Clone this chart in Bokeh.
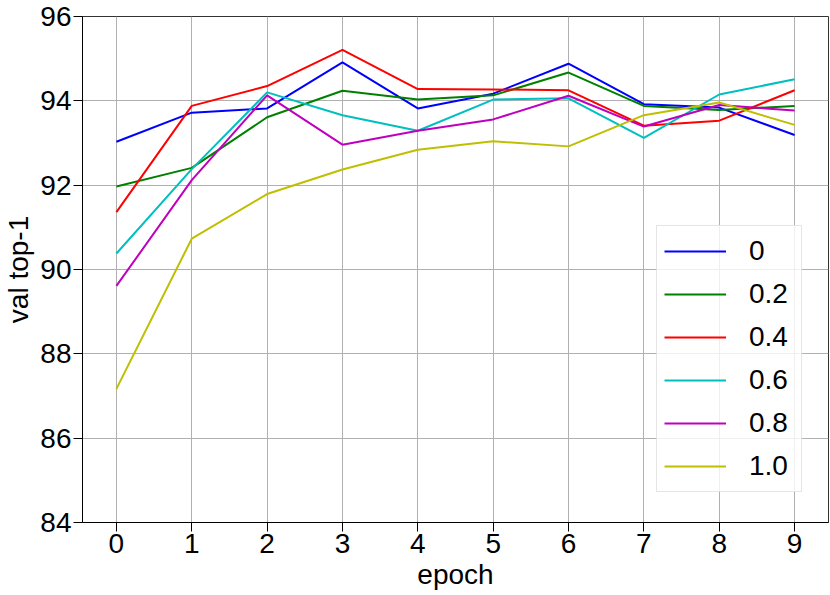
from bokeh.plotting import figure
from bokeh.models import Legend, LegendItem, FixedTicker, Range1d
from bokeh.embed import file_html
from bokeh.resources import INLINE

epochs = [0, 1, 2, 3, 4, 5, 6, 7, 8, 9]
labels = ["0", "0.2", "0.4", "0.6", "0.8", "1.0"]
s_0 = [93.03, 93.72, 93.82, 94.91, 93.82, 94.17, 94.88, 93.92, 93.84, 93.19]
s_02 = [91.97, 92.41, 93.61, 94.24, 94.03, 94.13, 94.67, 93.88, 93.78, 93.88]
s_04 = [91.36, 93.88, 94.35, 95.21, 94.28, 94.27, 94.25, 93.41, 93.53, 94.25]
s_06 = [90.38, 92.38, 94.20, 93.66, 93.29, 94.03, 94.06, 93.12, 94.15, 94.51]
s_08 = [89.61, 92.12, 94.13, 92.96, 93.29, 93.56, 94.12, 93.39, 93.90, 93.77]
s_10 = [87.17, 90.73, 91.79, 92.37, 92.84, 93.04, 92.92, 93.66, 93.96, 93.43]
series = [s_0, s_02, s_04, s_06, s_08, s_10]
colors = ["#0000ff", "#008000", "#ff0000", "#00bfbf", "#bf00bf", "#bfbf00"]
y_ticks = [84, 86, 88, 90, 92, 94, 96]

FONT = "Liberation Sans"

p = figure(width=830, height=595, output_backend="svg", toolbar_location=None,
           x_range=Range1d(-0.45, 9.45), y_range=Range1d(84, 96),
           min_border_left=77, min_border_right=2, min_border_top=16, min_border_bottom=73)

items = []
for lab, ys, c in zip(labels, series, colors):
    r = p.line(epochs, ys, line_color=c, line_width=2)
    items.append(LegendItem(label=lab, renderers=[r]))

legend = Legend(items=items, location=(574, 30), orientation="vertical",
                label_text_font=FONT, label_text_font_size="28px", label_text_color="black",
                glyph_width=62, glyph_height=36, label_height=36, label_width=45,
                label_standoff=23, spacing=7, padding=7, margin=0,
                border_line_color="#cccccc", border_line_width=1,
                background_fill_color="white", background_fill_alpha=0.8)
p.add_layout(legend, "center")

p.xaxis.ticker = FixedTicker(ticks=epochs)
p.yaxis.ticker = FixedTicker(ticks=y_ticks)
p.xaxis.axis_label = "epoch"
p.yaxis.axis_label = "val top-1"
for ax in [p.xaxis[0], p.yaxis[0]]:
    ax.axis_label_text_font = FONT
    ax.axis_label_text_font_size = "28px"
    ax.axis_label_text_font_style = "normal"
    ax.axis_label_text_color = "black"
    ax.major_label_text_font = FONT
    ax.major_label_text_font_size = "28px"
    ax.major_label_text_color = "black"
    ax.major_tick_out = 9
    ax.major_tick_in = 0
    ax.minor_tick_out = 0
    ax.minor_tick_in = 0
    ax.major_label_standoff = 2
    ax.axis_line_color = "black"
    ax.major_tick_line_color = "black"
p.xaxis[0].axis_label_standoff = 3
p.yaxis[0].axis_label_standoff = 3

p.xgrid.grid_line_color = "#b0b0b0"
p.ygrid.grid_line_color = "#b0b0b0"
p.xgrid.grid_line_width = 1
p.ygrid.grid_line_width = 1
p.outline_line_color = "#333333"
p.outline_line_width = 1
p.background_fill_color = "white"
p.border_fill_color = "white"

open("out.html", "w").write(file_html(p, INLINE))
